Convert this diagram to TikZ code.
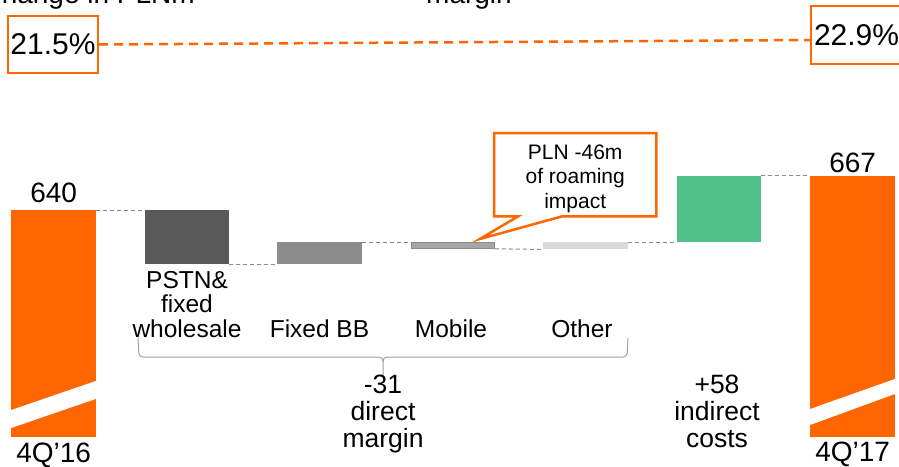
\documentclass[tikz,border=0pt]{standalone}
\usepackage{fontspec}
\setmainfont{Liberation Sans}
\definecolor{orgOrange}{HTML}{FF6600}
\definecolor{barDark}{HTML}{595959}
\definecolor{barMid}{HTML}{8C8C8C}
\definecolor{barMob}{HTML}{A6A6A6}
\definecolor{barLight}{HTML}{D9D9D9}
\definecolor{barGreen}{HTML}{50C088}
\definecolor{linkGray}{HTML}{8C8C8C}
\definecolor{braceGray}{HTML}{A0A0A0}
\begin{document}
\begin{tikzpicture}[x=1pt,y=-1pt,
  bar/.style={draw=none,inner sep=0,anchor=north west},
  link/.style={draw=linkGray,line width=1pt,dash pattern=on 4pt off 3pt},
  lbl/.style={font=\fontsize{24.5}{24.5}\selectfont,align=center,inner sep=0,anchor=base},
  val/.style={font=\fontsize{28}{30}\selectfont,inner sep=0,anchor=base},
  total/.style={font=\fontsize{26.5}{27}\selectfont,align=center,inner sep=0,anchor=base},
  pctbox/.style={draw=orgOrange,line width=2pt,font=\fontsize{30}{32}\selectfont,inner xsep=2.5pt,inner ysep=0pt,minimum height=57pt},
  calloutline/.style={draw=orgOrange,line width=2.5pt,line join=miter},
  title/.style={font=\fontsize{28}{30}\selectfont,inner sep=0}]
\useasboundingbox (0,0) rectangle (899,466);

% cut-off headings at the top edge
\node[title,anchor=base east] (hdl) at (195,3) {Change in PLNm};
\node[title,anchor=base] (hdc) at (469,3) {margin};

% margin boxes and the dashed line between them
\node[pctbox,anchor=center] (pl) at (53,44.5) {21.5\%};
\node[pctbox,anchor=north west,inner xsep=3pt,minimum height=58pt] (pr) at (810,5) {22.9\%};
\draw[orgOrange,line width=2.5pt,dash pattern=on 9pt off 6pt] (pl.east) -- ([yshift=-5pt]pr.west);

% waterfall bars
\node[bar,fill=orgOrange,minimum width=85pt,minimum height=227pt] (q16) at (11,210) {};
\node[bar,fill=barDark,minimum width=84pt,minimum height=54pt] (pstn) at (145,210) {};
\node[bar,fill=barMid,minimum width=85pt,minimum height=22pt] (fbb) at (277,242) {};
\node[bar,fill=barMob,draw=barMid,line width=0.8pt,minimum width=83pt,minimum height=6pt] (mob) at (411,242) {};
\node[bar,fill=barLight,minimum width=85pt,minimum height=7pt] (oth) at (543,242) {};
\node[bar,fill=barGreen,minimum width=84pt,minimum height=66pt] (ind) at (677,176) {};
\node[bar,fill=orgOrange,minimum width=85pt,minimum height=261pt] (q17) at (810,176) {};

% axis-break slashes on the total bars
\fill[white] ([shift={(-1pt,27pt)}]q16.south west) -- ([shift={(1pt,57pt)}]q16.south east)
  -- ([shift={(1pt,39pt)}]q16.south east) -- ([shift={(-1pt,9pt)}]q16.south west) -- cycle;
\fill[white] ([shift={(-1pt,28pt)}]q17.south west) -- ([shift={(1pt,59pt)}]q17.south east)
  -- ([shift={(1pt,44pt)}]q17.south east) -- ([shift={(-1pt,12pt)}]q17.south west) -- cycle;

% dashed step connectors
\draw[link] (q16.north east) -- (pstn.north west);
\draw[link] (pstn.south east) -- (fbb.south west);
\draw[link] (fbb.north east) -- (mob.north west);
\draw[link] (mob.south east) -- (oth.south west);
\draw[link] (oth.north east) -- (oth.north east -| ind.west);
\draw[link] ([yshift=1pt]ind.north east) -- ([yshift=1pt]q17.north west);

% values and period labels
\node[val] (v640) at ([yshift=8pt]q16.north) {640};
\node[val] (v667) at ([yshift=4pt]q17.north) {667};
\node[val] (p16) at ([yshift=-25pt]q16.south) {4Q’16};
\node[val] (p17) at ([yshift=-24pt]q17.south) {4Q’17};

% category labels
\node[lbl] (lpstn) at (187,337) {PSTN\&\\fixed\\wholesale};
\node[lbl] (lfbb) at (319.5,337) {Fixed BB};
\node[lbl] (lmob) at (451,337) {Mobile};
\node[lbl] (loth) at (582,337) {Other};

% brace grouping the direct-margin items
\draw[braceGray,line width=1pt,rounded corners=4pt]
  (138,338) -- (139,357) -- (383,357) -- (383,377);
\draw[braceGray,line width=1pt,rounded corners=4pt]
  (383,362) -- (383,357) -- (627,357) -- (628,338);

% group totals
\node[total] (tdir) at (383,447) {-31\\direct\\margin};
\node[total] (tind) at (717,447) {+58\\indirect\\costs};

% roaming callout: text box set a little low, outline on the true frame
\coordinate (tip) at ([shift={(-15pt,3pt)}]mob.north east);
\node[inner sep=0,minimum width=162pt,minimum height=83pt,anchor=north west,
  align=center,font=\fontsize{21}{24.5}\selectfont] (call) at (494,137)
  {PLN -46m\\of roaming\\impact};
\draw[calloutline] ([yshift=4pt]call.north west) -- ([yshift=4pt]call.north east)
  -- ([yshift=4pt]call.south east) -- ([shift={(68pt,4pt)}]call.south west) -- (tip)
  -- ([shift={(24pt,4pt)}]call.south west) -- ([yshift=4pt]call.south west) -- cycle;
\end{tikzpicture}
\end{document}
